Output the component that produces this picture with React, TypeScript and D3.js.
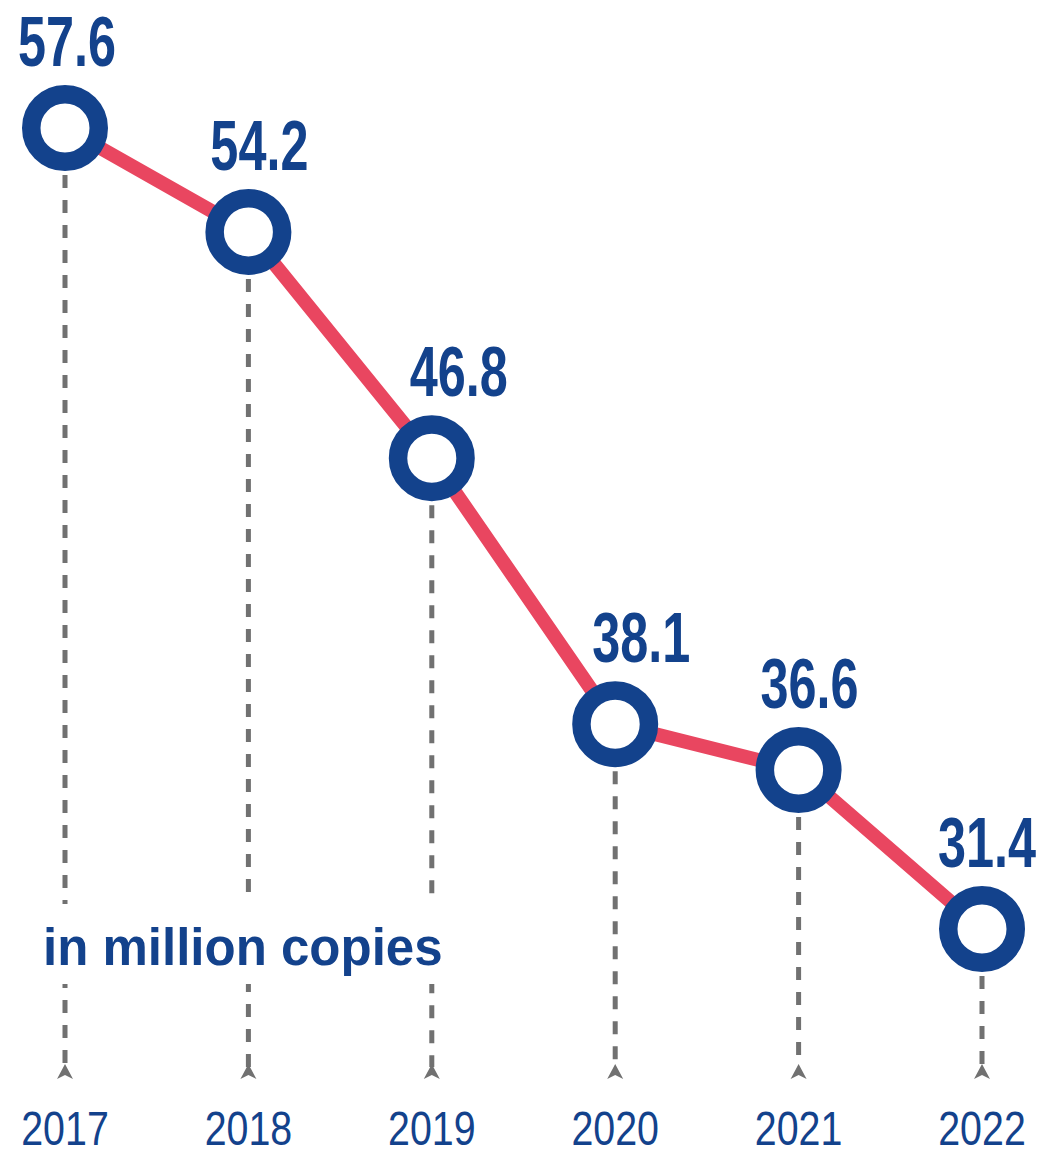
import React, { useEffect } from 'react';
import * as d3 from 'd3';

// sales, in million copies
const years = ['2017', '2018', '2019', '2020', '2021', '2022'];
const copies = [57.6, 54.2, 46.8, 38.1, 36.6, 31.4];
const unitLabel = 'in million copies';

const W = 1041;
const H = 1154;
const NAVY = '#13428c';
const RED = '#e94660';
const GREY = '#717171';

// labels sit a bit to the right where the line is steep
const labelDx = [2, 11, 27, 26, 11, 5];

const App: React.FC = () => {
  useEffect(() => {
    document.body.style.margin = '0';
  }, []);

  const x = d3.scalePoint<string>().domain(years).range([65, 982]);
  const y = d3.scaleLinear().domain([31.4, 57.6]).range([929, 128]);

  const pts = years.map((yr, i) => ({ yr, v: copies[i], i }));
  const line = d3.line<{ yr: string; v: number }>()
    .x(d => x(d.yr) as number)
    .y(d => y(d.v));

  const rOuter = 43;
  const ringW = 18.5;
  const axisY = 1079;

  return (
    <svg width={W} height={H} style={{ display: 'block' }}>
      <rect width={W} height={H} fill="#fff" />

      {/* dashed drop lines with arrow tips */}
      {pts.map(d => {
        const cx = x(d.yr) as number;
        return (
          <g key={'drop' + d.yr}>
            <line
              x1={cx} x2={cx}
              y1={y(d.v) + rOuter + 4} y2={axisY - 12}
              stroke={GREY} strokeWidth={5} strokeDasharray="13 12"
            />
            <path
              d={`M${cx},${axisY - 15} L${cx + 8},${axisY} L${cx},${axisY - 4} L${cx - 8},${axisY} Z`}
              fill={GREY}
            />
          </g>
        );
      })}

      {/* unit note, knocks out the dashes behind it */}
      <rect x={36} y={904} width={418} height={80} fill="#fff" />
      <text
        x={43} y={965}
        fontFamily="'Liberation Sans', Arial, sans-serif"
        fontWeight="bold" fontSize={51} fill={NAVY}
      >
        {unitLabel}
      </text>

      <path d={line(pts) || ''} fill="none" stroke={RED} strokeWidth={14} strokeLinejoin="round" />

      {pts.map(d => (
        <circle
          key={'c' + d.yr}
          cx={x(d.yr) as number} cy={y(d.v)}
          r={rOuter - ringW / 2}
          fill="#fff" stroke={NAVY} strokeWidth={ringW}
        />
      ))}

      {/* condensed look: squeeze a regular sans horizontally */}
      {pts.map(d => (
        <text
          key={'l' + d.yr}
          transform={`translate(${(x(d.yr) as number) + labelDx[d.i]},${y(d.v) - 62}) scale(0.72,1)`}
          textAnchor="middle"
          fontFamily="'Liberation Sans', Arial, sans-serif"
          fontWeight="bold" fontSize={70} fill={NAVY}
        >
          {d.v.toFixed(1)}
        </text>
      ))}

      {years.map(yr => (
        <text
          key={'t' + yr}
          transform={`translate(${x(yr) as number},1145) scale(0.82,1)`}
          textAnchor="middle"
          fontFamily="'Liberation Sans', Arial, sans-serif"
          fontSize={48} fill={NAVY}
        >
          {yr}
        </text>
      ))}
    </svg>
  );
};

export default App;
